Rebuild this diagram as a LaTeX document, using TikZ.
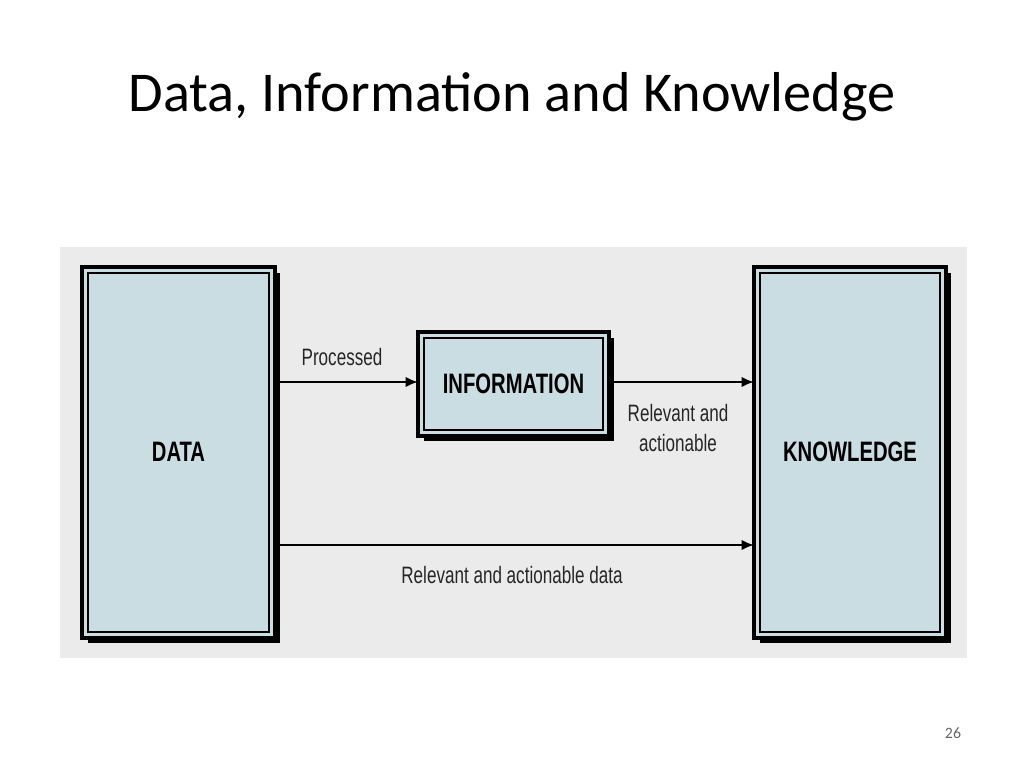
\documentclass[tikz,border=0pt]{standalone}
\usepackage{fontspec}
\setmainfont{Carlito}
\newfontfamily\figfont{Liberation Sans}
\usetikzlibrary{arrows.meta,positioning}
\definecolor{panelgray}{HTML}{EBEBEB}
\definecolor{boxblue}{HTML}{C9DDE3}
\begin{document}
\begin{tikzpicture}[x=0.02cm,y=-0.02cm]
\tikzset{edge/.style = {-{Latex[length=7pt,width=6pt]},line width=1.4pt}}
\tikzset{lab/.style = {font=\figfont\fontsize{13.5}{17}\selectfont,text=black!85,xscale=0.72}}
\tikzset{blab/.style = {font=\figfont\bfseries\fontsize{16}{19}\selectfont,xscale=0.72}}
\useasboundingbox (0,0) rectangle (1024,768);
\node[font=\fontsize{32}{38}\selectfont] (title) at (512,97) {Data, Information and Knowledge};
\fill[panelgray] (60,247) rectangle (967,658);
% boxes
\foreach \x/\y/\X/\Y in {82/267/275/638, 418/332/609/436, 754/267/946/638}{
  \fill[black] (\x+6,\y+6) rectangle (\X+5,\Y+5);
  \draw[line width=1.8pt,fill=boxblue] (\x,\y) rectangle (\X,\Y);
  \draw[line width=0.8pt] (\x+6,\y+6) rectangle (\X-6,\Y-6);
}
\node[blab] (data) at (178.5,452) {DATA};
\node[blab] (info) at (513.5,384) {INFORMATION};
\node[blab] (know) at (850,452) {KNOWLEDGE};
\coordinate (dr1) at (275,382);
\coordinate (il) at (418,382);
\coordinate (ir) at (609,382);
\coordinate (kl1) at (754,382);
\coordinate (dr2) at (275,545);
\coordinate (kl2) at (754,545);
\draw[edge] (dr1) -- (il);
\draw[edge] (ir) -- (kl1);
\draw[edge] (dr2) -- (kl2);
\node[lab] (proc) at (342,357) {Processed};
\node[lab,align=center] (rel) at (678,428) {Relevant and\\actionable};
\node[lab] (reldata) at (512,575) {Relevant and actionable data};
\node[font=\small,text=black!60] (page) at (953,733) {26};
\end{tikzpicture}
\end{document}
